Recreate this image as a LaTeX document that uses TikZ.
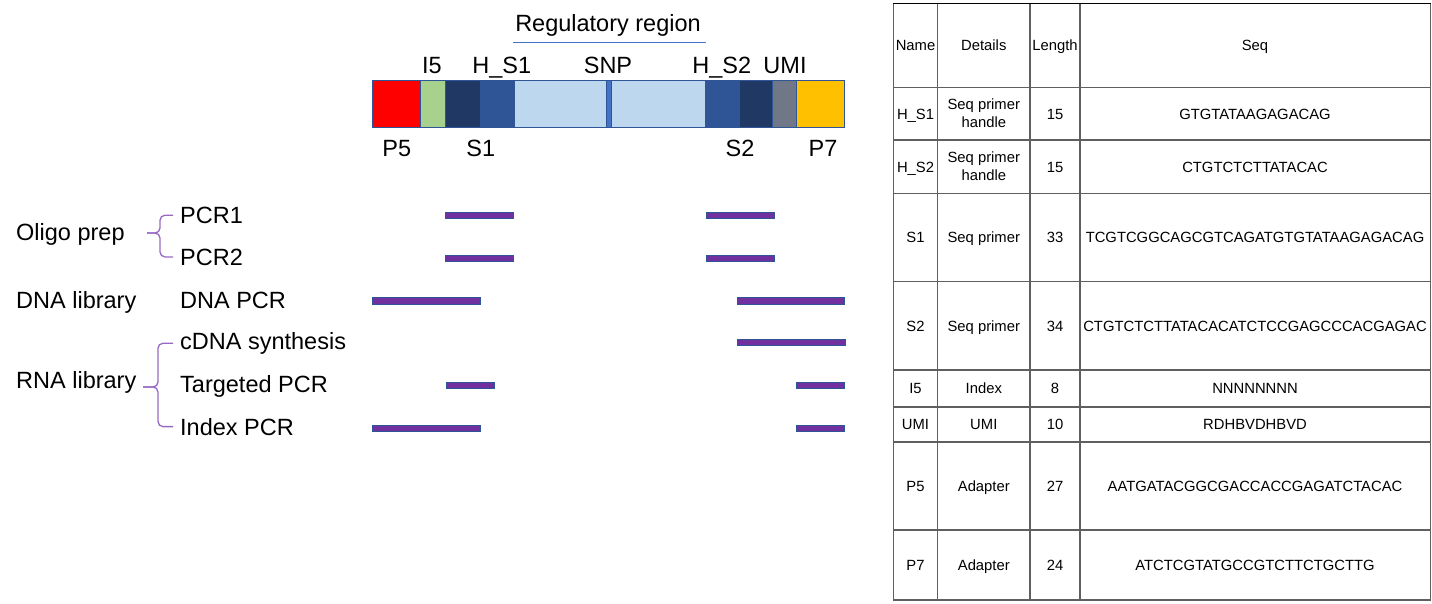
\documentclass[tikz,border=0pt]{standalone}
\usepackage{fontspec}
\setmainfont{Liberation Sans}
\usepackage{xcolor}
\usepackage{tikz}

\definecolor{adapterred}{RGB}{255,0,0}
\definecolor{indexgreen}{RGB}{169,209,142}
\definecolor{primernavy}{RGB}{32,56,100}
\definecolor{handleblue}{RGB}{47,85,151}
\definecolor{regblue}{RGB}{189,215,238}
\definecolor{snpblue}{RGB}{68,114,196}
\definecolor{umigray}{RGB}{112,120,136}
\definecolor{adapteryellow}{RGB}{255,192,0}
\definecolor{pcrpurple}{RGB}{112,48,160}
\definecolor{bracepurple}{RGB}{150,105,195}
\definecolor{rulegray}{RGB}{95,95,95}

\begin{document}
\begin{tikzpicture}[x=1pt,y=-1pt,
    lbl/.style={font=\fontsize{23.5}{28}\selectfont, inner sep=0pt, anchor=base},
    grp/.style={lbl, anchor=base west},
    seg/.style={draw=handleblue, line width=0.9pt},
    pcr/.style={fill=pcrpurple, draw=handleblue, line width=0.6pt},
    brace/.style={draw=bracepurple, line width=1.3pt, rounded corners=5pt},
    cell/.style={font=\fontsize{14.8}{18}\selectfont, inner sep=0pt, text height=10.6pt, text depth=0pt},
    cellii/.style={font=\fontsize{14.8}{18}\selectfont, inner sep=0pt, align=center},
    tablerule/.style={draw=rulegray, line width=1.3pt}]
            \useasboundingbox (0,0) rectangle (1432,603);

            % Draw title
            \node[lbl] (reg) at (608,31) {Regulatory region};
            \draw[snpblue, line width=1pt] (513,42.3) -- (706,42.3);

            % Draw construct
            \draw[seg, fill=adapterred] (372,80) rectangle (420.3,127.3);
            \draw[seg, fill=indexgreen] (420.3,80) rectangle (445.7,127.3);
            \draw[seg, fill=primernavy] (445.7,80) rectangle (480,127.3);
            \draw[seg, fill=handleblue] (480,80) rectangle (514.3,127.3);
            \draw[seg, fill=regblue] (514.3,80) rectangle (606,127.3);
            \draw[seg, fill=snpblue] (606,80) rectangle (611.3,127.3);
            \draw[seg, fill=regblue] (611.3,80) rectangle (705.3,127.3);
            \draw[seg, fill=handleblue] (705.3,80) rectangle (739.7,127.3);
            \draw[seg, fill=primernavy] (739.7,80) rectangle (772.7,127.3);
            \draw[seg, fill=umigray] (772.7,80) rectangle (796.7,127.3);
            \draw[seg, fill=adapteryellow] (796.7,80) rectangle (844.3,127.3);

            \node[lbl] (i5) at (432,73) {I5};
            \node[lbl] (hs1) at (501.7,73) {H\_S1};
            \node[lbl] (snp) at (608,73) {SNP};
            \node[lbl] (hs2) at (721.7,73) {H\_S2};
            \node[lbl] (umi) at (785,73) {UMI};
            \node[lbl] (p5) at (396.7,156) {P5};
            \node[lbl] (s1) at (480.7,156) {S1};
            \node[lbl] (s2) at (740,156) {S2};
            \node[lbl] (p7) at (823,156) {P7};

            % Draw steps
            \node[grp] (oligo) at (16,240) {Oligo prep};
            \node[grp] (pcr1) at (180,223.3) {PCR1};
            \node[grp] (pcr2) at (180,265) {PCR2};
            \node[grp] (dnalib) at (16,308.3) {DNA library};
            \node[grp] (dnapcr) at (180,308.3) {DNA PCR};
            \node[grp] (cdna) at (180,349.3) {cDNA synthesis};
            \node[grp] (rnalib) at (16,388.3) {RNA library};
            \node[grp] (tpcr) at (180,392.7) {Targeted PCR};
            \node[grp] (ipcr) at (180,435) {Index PCR};

            \coordinate (oligotip) at (147,233);
            \draw[brace] ([xshift=-7pt]pcr1.west) -- ++(-13,0) |- (oligotip);
            \draw[brace] ([xshift=-7pt]pcr2.west) -- ++(-13,0) |- (oligotip);
            \coordinate (rnatip) at (143,387);
            \draw[brace] ([xshift=-7pt]cdna.west) -- ++(-15,0) |- (rnatip);
            \draw[brace] ([xshift=-7pt]ipcr.west) -- ++(-15,0) |- (rnatip);

            % Draw primers
            \draw[pcr] (445,212) rectangle (513.7,218);
            \draw[pcr] (706,212) rectangle (774.7,218);
            \draw[pcr] (445,255) rectangle (513.7,261);
            \draw[pcr] (706,255) rectangle (774.7,261);
            \draw[pcr] (372,297) rectangle (480.7,304);
            \draw[pcr] (737,297) rectangle (844.7,304);
            \draw[pcr] (737,339) rectangle (845.7,345);
            \draw[pcr] (446,382) rectangle (494.7,388);
            \draw[pcr] (796,382) rectangle (844.7,388);
            \draw[pcr] (372,425) rectangle (480.7,431);
            \draw[pcr] (796,425) rectangle (844.7,431);

            % Draw table
            \draw[tablerule] (893.3,3.3) rectangle (1430.7,600);
            \draw[tablerule] (893.3,87.3) -- (1430.7,87.3);
            \draw[tablerule] (893.3,140) -- (1430.7,140);
            \draw[tablerule] (893.3,193.3) -- (1430.7,193.3);
            \draw[tablerule] (893.3,281.7) -- (1430.7,281.7);
            \draw[tablerule] (893.3,370) -- (1430.7,370);
            \draw[tablerule] (893.3,407) -- (1430.7,407);
            \draw[tablerule] (893.3,442) -- (1430.7,442);
            \draw[tablerule] (893.3,530) -- (1430.7,530);
            \draw[tablerule] (937.7,3.3) -- (937.7,600);
            \draw[tablerule] (1030,3.3) -- (1030,600);
            \draw[tablerule] (1080,3.3) -- (1080,600);
            \draw[black, line width=1pt] (893.3,3.3) -- (1430.7,3.3);

            \node[cell] (hname) at (915.5,45.3) {Name};
            \node[cell] (hdet) at (983.8,45.3) {Details};
            \node[cell] (hlen) at (1055,45.3) {Length};
            \node[cell] (hseq) at (1255,45.3) {Seq};

            \node[cell] (hsiname) at (915.5,113.7) {H\_S1};
            \node[cellii] (hsidet) at (983.8,113.7) {Seq primer\\handle};
            \node[cell] (hsilen) at (1055,113.7) {15};
            \node[cell] (hsiseq) at (1255,113.7) {GTGTATAAGAGACAG};

            \node[cell] (hsiiname) at (915.5,166.7) {H\_S2};
            \node[cellii] (hsiidet) at (983.8,166.7) {Seq primer\\handle};
            \node[cell] (hsiilen) at (1055,166.7) {15};
            \node[cell] (hsiiseq) at (1255,166.7) {CTGTCTCTTATACAC};

            \node[cell] (siname) at (915.5,237.5) {S1};
            \node[cell] (sidet) at (983.8,237.5) {Seq primer};
            \node[cell] (silen) at (1055,237.5) {33};
            \node[cell] (siseq) at (1255,237.5) {TCGTCGGCAGCGTCAGATGTGTATAAGAGACAG};

            \node[cell] (siiname) at (915.5,325.8) {S2};
            \node[cell] (siidet) at (983.8,325.8) {Seq primer};
            \node[cell] (siilen) at (1055,325.8) {34};
            \node[cell] (siiseq) at (1255,325.8) {CTGTCTCTTATACACATCTCCGAGCCCACGAGAC};

            \node[cell] (iname) at (915.5,388.5) {I5};
            \node[cell] (idet) at (983.8,388.5) {Index};
            \node[cell] (ilen) at (1055,388.5) {8};
            \node[cell] (iseq) at (1255,388.5) {NNNNNNNN};

            \node[cell] (uname) at (915.5,424.5) {UMI};
            \node[cell] (udet) at (983.8,424.5) {UMI};
            \node[cell] (ulen) at (1055,424.5) {10};
            \node[cell] (useq) at (1255,424.5) {RDHBVDHBVD};

            \node[cell] (pvname) at (915.5,486) {P5};
            \node[cell] (pvdet) at (983.8,486) {Adapter};
            \node[cell] (pvlen) at (1055,486) {27};
            \node[cell] (pvseq) at (1255,486) {AATGATACGGCGACCACCGAGATCTACAC};

            \node[cell] (pviiname) at (915.5,565) {P7};
            \node[cell] (pviidet) at (983.8,565) {Adapter};
            \node[cell] (pviilen) at (1055,565) {24};
            \node[cell] (pviiseq) at (1255,565) {ATCTCGTATGCCGTCTTCTGCTTG};
        \end{tikzpicture}
\end{document}
